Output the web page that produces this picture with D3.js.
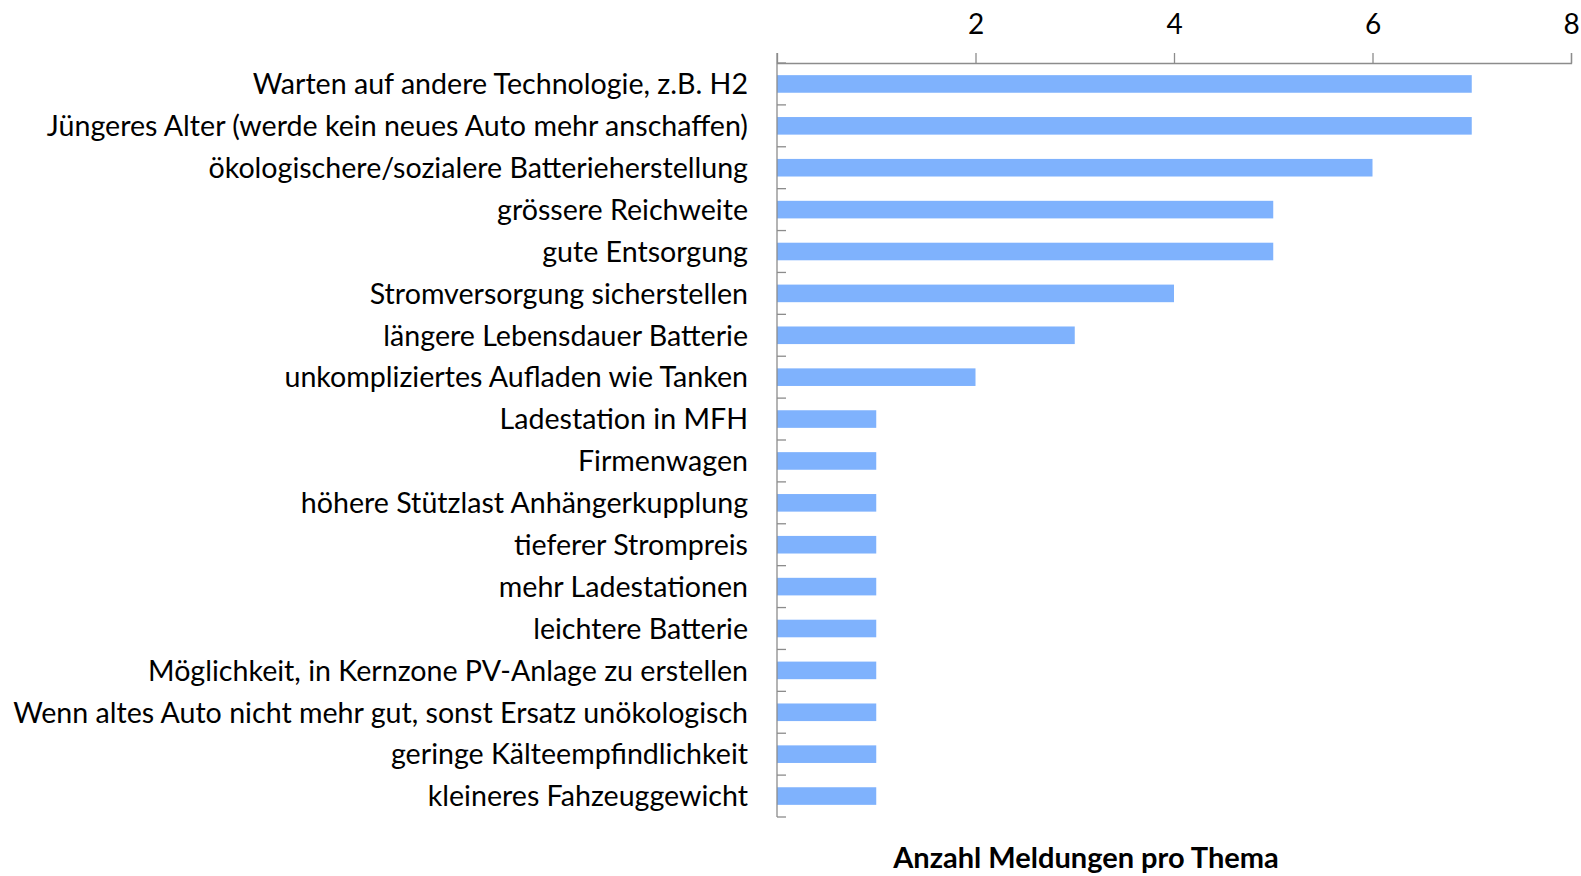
<!DOCTYPE html>
<html>
<head>
<meta charset="utf-8">
<script src="https://cdn.jsdelivr.net/npm/d3@7"></script>
<style>
  body { margin: 0; background: #fff; }
  svg { display: block; }
  text { font-family: Lato, "Open Sans", sans-serif; fill: #000; }
</style>
</head>
<body>
<div id="chart"></div>
<script>
var themes = [
  "Warten auf andere Technologie, z.B. H2",
  "Jüngeres Alter (werde kein neues Auto mehr anschaffen)",
  "ökologischere/sozialere Batterieherstellung",
  "grössere Reichweite",
  "gute Entsorgung",
  "Stromversorgung sicherstellen",
  "längere Lebensdauer Batterie",
  "unkompliziertes Aufladen wie Tanken",
  "Ladestation in MFH",
  "Firmenwagen",
  "höhere Stützlast Anhängerkupplung",
  "tieferer Strompreis",
  "mehr Ladestationen",
  "leichtere Batterie",
  "Möglichkeit, in Kernzone PV-Anlage zu erstellen",
  "Wenn altes Auto nicht mehr gut, sonst Ersatz unökologisch",
  "geringe Kälteempfindlichkeit",
  "kleineres Fahzeuggewicht"
];
var counts = [7, 7, 6, 5, 5, 4, 3, 2, 1, 1, 1, 1, 1, 1, 1, 1, 1, 1];
var xTicks = [2, 4, 6, 8];
var axisTitle = "Anzahl Meldungen pro Thema";

var W = 1581, H = 876;
var plotL = 777, plotR = 1571, plotT = 63, plotB = 817;

var svg = d3.select("#chart").append("svg")
  .attr("width", W).attr("height", H);

var x = d3.scaleLinear().domain([0, 8]).range([plotL, plotR]);
var y = d3.scaleBand().domain(themes).range([plotT, plotB]).paddingInner(0.58).paddingOuter(0.29);

// bars
svg.append("g").selectAll("rect")
  .data(counts)
  .enter().append("rect")
  .attr("x", x(0))
  .attr("y", function(d, i) { return y(themes[i]); })
  .attr("width", function(d) { return x(d) - x(0); })
  .attr("height", y.bandwidth())
  .attr("fill", "#7fb2fd");

// top value axis
var gx = svg.append("g")
  .attr("transform", "translate(0," + plotT + ")")
  .call(d3.axisTop(x).tickValues(xTicks).tickSize(10).tickSizeOuter(10).tickPadding(19));
gx.selectAll("path, line").attr("stroke", "#8c8c8c").attr("stroke-width", 1.3);
gx.selectAll("text").style("font-size", "28px").style("font-family", "Lato, sans-serif").attr("fill", "#000");

// category axis: line plus ticks on band boundaries
var step = y.step();
var bounds = d3.range(themes.length + 1).map(function(i) { return plotT + i * step; });
var gy = svg.append("g");
gy.append("line")
  .attr("x1", plotL).attr("x2", plotL)
  .attr("y1", plotT - 10).attr("y2", plotB)
  .attr("stroke", "#8c8c8c").attr("stroke-width", 1.3);
gy.selectAll("line.tk")
  .data(bounds)
  .enter().append("line")
  .attr("class", "tk")
  .attr("x1", plotL).attr("x2", plotL + 9)
  .attr("y1", function(d) { return d; }).attr("y2", function(d) { return d; })
  .attr("stroke", "#8c8c8c").attr("stroke-width", 1.3);

// labels
svg.append("g").selectAll("text")
  .data(themes)
  .enter().append("text")
  .attr("x", plotL - 29)
  .attr("y", function(d) { return y(d) + y.bandwidth() / 2; })
  .attr("dy", "0.36em")
  .attr("text-anchor", "end")
  .style("font-size", "28.6px")
  .text(function(d) { return d; });

svg.append("text")
  .attr("x", 1086)
  .attr("y", 868)
  .attr("text-anchor", "middle")
  .style("font-size", "29px")
  .style("font-weight", "bold")
  .text(axisTitle);
</script>
</body>
</html>
